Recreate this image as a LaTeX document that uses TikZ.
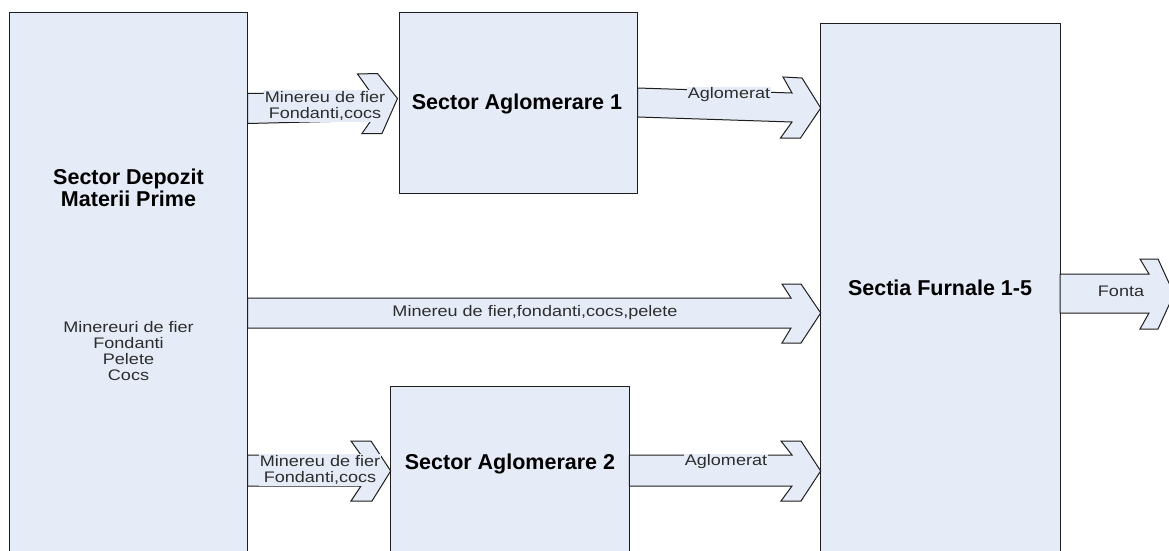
\documentclass[tikz,border=0pt]{standalone}
\usepackage{fontspec}
\setmainfont{Liberation Sans}
\newfontfamily\widefont[FakeStretch=1.18]{Liberation Sans}
\definecolor{boxfill}{RGB}{229,236,247}
\definecolor{edge}{RGB}{30,30,30}
\definecolor{txt}{RGB}{45,45,45}
\begin{document}
\begin{tikzpicture}[x=1pt,y=-1pt,
  box/.style={draw=edge,fill=boxfill,line width=1pt,anchor=north west,inner sep=0pt,outer sep=0pt},
  flow/.style={draw=edge,fill=boxfill,line width=1pt,line join=miter},
  title/.style={font=\bfseries\fontsize{21.5}{22}\selectfont,text=black,align=center},
  small/.style={font=\widefont\fontsize{15.3}{16}\selectfont,text=txt,align=center},
  lbl/.style={small,fill=boxfill,inner sep=1pt}]
\useasboundingbox (0,0) rectangle (1169,551);
\clip (0,0) rectangle (1169,551);
\fill[white] (0,0) rectangle (1169,551);

% boxes
\node[box,minimum width=238.7pt,minimum height=600pt] (dep) at (9,12.3) {};
\node[box,minimum width=238.7pt,minimum height=181pt] (ag1) at (399,12.3) {};
\node[box,minimum width=238.6pt,minimum height=300pt] (ag2) at (390.7,386) {};
\node[box,minimum width=239.3pt,minimum height=600pt] (fur) at (820.7,23.3) {};

% block arrows
\draw[flow] (247.7,93.5) -- (370,91.5) -- (357.5,74) -- (377.5,73.5) -- (397.5,98.5)
  -- (382,133.5) -- (362,133.5) -- (371,120.5) -- (247.7,123.5) -- cycle;
\draw[flow] (637.7,88) -- (792,93) -- (783,77) -- (802,78) -- (820.7,108)
  -- (800.5,138) -- (780.5,138) -- (792,122) -- (637.7,117) -- cycle;
\draw[flow] (247.7,298) -- (791,298) -- (782,284) -- (801,284) -- (820.7,313)
  -- (801,343) -- (782,343) -- (791,328) -- (247.7,328) -- cycle;
\draw[flow] (247.7,455) -- (361,455) -- (351,441) -- (371,441) -- (390.7,471)
  -- (372,501) -- (351,501) -- (361,486) -- (247.7,486) -- cycle;
\draw[flow] (629.3,455) -- (792,455) -- (781,441) -- (801,441) -- (820.7,471)
  -- (801,501) -- (781,501) -- (792,486) -- (629.3,486) -- cycle;
\draw[flow] (1060,274) -- (1149,274) -- (1140,259) -- (1158,259) -- (1174,294)
  -- (1158,329) -- (1140,329) -- (1149,313) -- (1060,313) -- cycle;

% arrow labels
\node[lbl] (l1) at (325,106) {Minereu de fier\\Fondanti,cocs};
\node[lbl] (l2) at (729,95) {Aglomerat};
\node[lbl] (l3) at (535,313) {Minereu de fier,fondanti,cocs,pelete};
\node[lbl] (l4) at (320,470) {Minereu de fier\\Fondanti,cocs};
\node[lbl] (l5) at (726,462) {Aglomerat};
\node[lbl] (l6) at (1121,291) {Fonta};

% box texts
\node[title] (tdep) at (128.5,188) {Sector Depozit\\Materii Prime};
\node[small] (tlist) at (128.5,351) {Minereuri de fier\\Fondanti\\Pelete\\Cocs};
\node[title] (tag1) at (517,104) {Sector Aglomerare 1};
\node[title] (tag2) at (510,464) {Sector Aglomerare 2};
\node[title] (tfur) at (940,288) {Sectia Furnale 1-5};
\end{tikzpicture}
\end{document}
